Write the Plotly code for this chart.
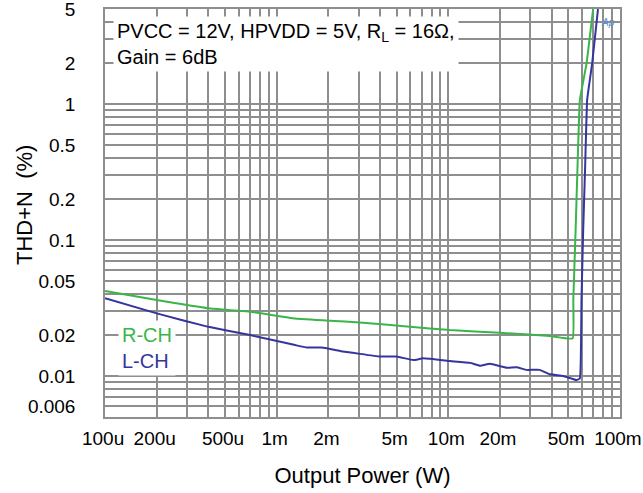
import plotly.graph_objects as go

# ---- data ----
r_ch_power = [1.0e-4, 2.0e-4, 4.0e-4, 7.0e-4, 1.28e-3, 2.04e-3, 3.05e-3, 5.97e-3, 0.0102,
              0.0200, 0.0391, 0.0530, 0.0535, 0.0551, 0.0566, 0.0584, 0.0610, 0.0639, 0.0698]
r_ch_thdn = [0.0422, 0.0362, 0.0315, 0.0297, 0.0265, 0.0255, 0.0248, 0.0230, 0.0218,
             0.0208, 0.0197, 0.0189, 0.0362, 0.112, 0.346, 1.07, 1.45, 1.99, 5.0]

l_ch_power = [1.0e-4, 2.0e-4, 4.0e-4, 7.0e-4, 1.28e-3, 1.50e-3, 1.83e-3, 2.34e-3, 4.0e-3,
              5.0e-3, 6.25e-3, 7.15e-3, 0.0102, 0.0134, 0.0153, 0.0175, 0.0219, 0.0250,
              0.0286, 0.0341, 0.0391, 0.0467, 0.0558, 0.0584, 0.0597, 0.0610, 0.0627,
              0.0644, 0.0665, 0.0689, 0.0745]
l_ch_thdn = [0.0373, 0.0289, 0.0230, 0.0200, 0.0169, 0.0162, 0.0162, 0.0153, 0.0139,
             0.0139, 0.0131, 0.0135, 0.0129, 0.0125, 0.0119, 0.0123, 0.0115, 0.0116,
             0.0111, 0.0111, 0.0103, 0.0100, 0.00935, 0.0096, 0.0362, 0.112, 0.346,
             1.07, 1.45, 1.99, 5.0]

x_tick_vals = [1e-4, 2e-4, 5e-4, 1e-3, 2e-3, 5e-3, 1e-2, 2e-2, 5e-2, 1e-1]
x_tick_text = ["100u", "200u", "500u", "1m", "2m", "5m", "10m", "20m", "50m", "100m"]
y_tick_vals = [5, 2, 1, 0.5, 0.2, 0.1, 0.05, 0.02, 0.01, 0.006]
y_tick_text = ["5", "2", "1", "0.5", "0.2", "0.1", "0.05", "0.02", "0.01", "0.006"]

GREEN = "#3bb54a"
BLUE = "#34359e"
GRID = "#8e8e8e"
FONT = "Arial, Liberation Sans, sans-serif"


def log_grid(lo_exp, hi_exp, lo, hi):
    vals = []
    for e in range(lo_exp, hi_exp + 1):
        for k in range(1, 10):
            v = k * 10.0 ** e
            if lo * 0.999 <= v <= hi * 1.001:
                vals.append(v)
    return vals


def grid_ticks(grid_vals, label_vals, label_text):
    texts = []
    for g in grid_vals:
        t = ""
        for lv, lt in zip(label_vals, label_text):
            if abs(g - lv) / lv < 1e-6:
                t = lt
        texts.append(t)
    return grid_vals, texts


xg, xt = grid_ticks(log_grid(-4, -1, 1e-4, 1e-1), x_tick_vals, x_tick_text)
yg, yt = grid_ticks(log_grid(-3, 0, 0.005, 5), y_tick_vals, y_tick_text)

fig = go.Figure()
fig.add_trace(go.Scatter(x=r_ch_power, y=r_ch_thdn, mode="lines", name="R-CH",
                         line=dict(color=GREEN, width=2, shape="spline", smoothing=0.3)))
fig.add_trace(go.Scatter(x=l_ch_power, y=l_ch_thdn, mode="lines", name="L-CH",
                         line=dict(color=BLUE, width=2, shape="spline", smoothing=0.3)))

fig.update_layout(
    width=643, height=493,
    margin=dict(l=105, r=23, t=9, b=76),
    paper_bgcolor="white", plot_bgcolor="white",
    showlegend=False,
    font=dict(family=FONT, color="black"),
)
fig.update_xaxes(
    type="log", range=[-4.0004, -0.9996], automargin=False,
    tickmode="array", tickvals=xg, ticktext=xt, ticklabeloverflow="allow",
    tickfont=dict(size=19), ticks="", ticklabelstandoff=3, ticklabelshift=-2,
    showgrid=True, gridcolor=GRID, gridwidth=1.5,
    showline=True, linecolor=GRID, linewidth=1.5, mirror=True,
    zeroline=False,
    title=dict(text="Output Power (W)", font=dict(size=22), standoff=20),
)
fig.update_yaxes(
    type="log", range=[-2.3012, 0.6991], automargin=False,
    tickmode="array", tickvals=yg, ticktext=yt, ticklabeloverflow="allow",
    tickfont=dict(size=19), ticks="", ticklabelstandoff=24,
    showgrid=True, gridcolor=GRID, gridwidth=1.5,
    showline=True, linecolor=GRID, linewidth=1.5, mirror=True,
    zeroline=False,
)

# y-axis title placed as a rotated annotation for precise position
fig.add_annotation(
    xref="paper", yref="paper", x=-0.155, y=0.52, xanchor="center", yanchor="middle",
    text="THD+N  (%)", textangle=-90, showarrow=False,
    font=dict(size=22, color="black"),
)
fig.add_annotation(
    xref="paper", yref="paper", x=0.0155, y=0.982, xanchor="left", yanchor="top",
    text="PVCC = 12V, HPVDD = 5V, R<sub>L</sub> = 16Ω,<br>Gain = 6dB",
    align="left", showarrow=False, bgcolor="white", borderpad=3,
    font=dict(size=20, color="black"),
)
fig.add_annotation(
    xref="paper", yref="paper", x=0.025, y=0.237, xanchor="left", yanchor="top",
    text=f"<span style='color:{GREEN}'>R-CH</span><br><span style='color:{BLUE}'>L-CH</span>",
    align="left", showarrow=False, bgcolor="white", borderpad=3,
    font=dict(size=20),
)
fig.add_annotation(
    xref="paper", yref="paper", x=0.995, y=0.985, xanchor="right", yanchor="top",
    text="<i>Ap</i>", showarrow=False, font=dict(size=10, color="#5a8fd0"),
)

fig.write_html("out.html", config={"displayModeBar": False},
               post_script="document.body.style.margin='0px';")
